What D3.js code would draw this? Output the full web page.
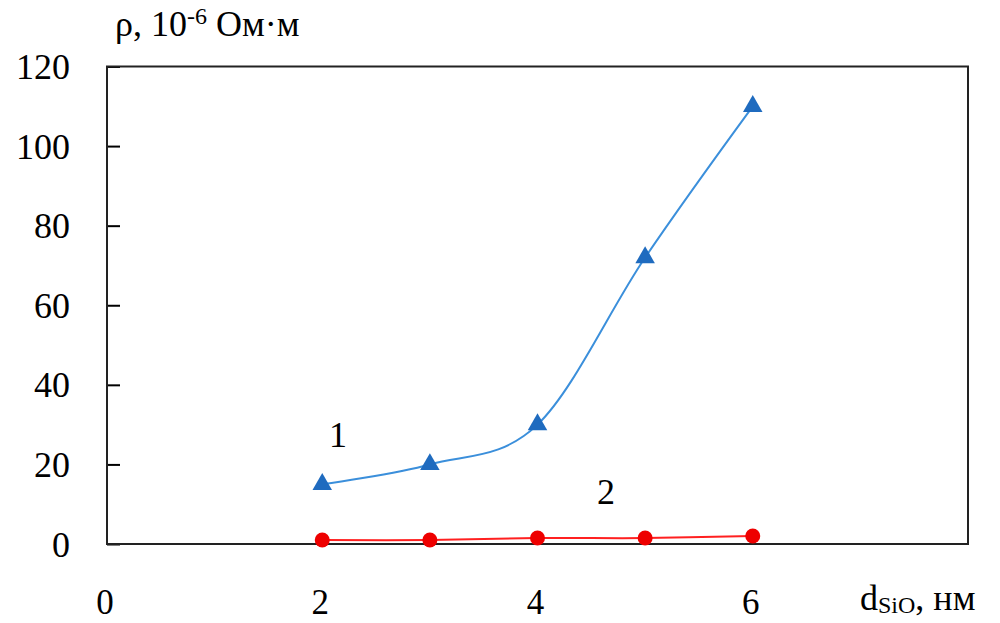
<!DOCTYPE html>
<html><head><meta charset="utf-8">
<script src="https://cdn.jsdelivr.net/npm/d3@7"></script>
<style>body{margin:0;background:#fff}svg{display:block}</style>
</head><body><svg id="c" width="1000" height="623" font-family="'Liberation Serif', 'Times New Roman', 'DejaVu Serif', serif"></svg>
<script>
const xValues = [2, 3, 4, 5, 6];
const series1 = [15, 20, 30, 72, 110];
const series2 = [1, 1, 1.5, 1.5, 2];
const yTicks = [0, 20, 40, 60, 80, 100, 120];
const xTicks = [0, 2, 4, 6];

const svg = d3.select("#c");
const F = "'Liberation Serif', 'Times New Roman', 'DejaVu Serif', serif";
const L = 107, R = 968, T = 66.5, B = 544;
const x = d3.scaleLinear().domain([0, 8]).range([L, R]);
const y = d3.scaleLinear().domain([0, 120]).range([B, T]);

// y ticks (inward)
const yAxis = d3.axisRight(y).tickValues(yTicks).tickSize(13).tickFormat("");
svg.append("g").attr("transform", `translate(${L},0)`).call(yAxis)
  .call(g => g.select(".domain").remove())
  .call(g => g.selectAll("line").attr("stroke", "#000").attr("stroke-width", 2));

// y tick labels
svg.append("g").selectAll("text").data(yTicks).join("text")
  .attr("font-family", F)
  .attr("x", 70).attr("y", d => y(d)).attr("dy", "0.35em")
  .attr("text-anchor", "end").attr("font-size", 36).text(d => d);

// x tick labels
svg.append("g").selectAll("text").data(xTicks).join("text")
  .attr("font-family", F)
  .attr("x", d => x(d) - 2).attr("y", 614)
  .attr("text-anchor", "middle").attr("font-size", 35).text(d => d);

// frame
svg.append("rect").attr("x", L).attr("y", T).attr("width", R - L).attr("height", B - T)
  .attr("fill", "none").attr("stroke", "#222").attr("stroke-width", 2);

const line = d3.line().x(d => x(d[0])).y(d => y(d[1])).curve(d3.curveCardinal.tension(0));
const d1 = xValues.map((v, i) => [v, series1[i]]);
const d2 = xValues.map((v, i) => [v, series2[i]]);

svg.append("path").datum(d2).attr("d", line).attr("fill", "none").attr("stroke", "#ff2020").attr("stroke-width", 2);
svg.append("path").datum(d1).attr("d", line).attr("fill", "none").attr("stroke", "#3b8fdb").attr("stroke-width", 2);

svg.append("g").selectAll("circle").data(d2).join("circle")
  .attr("cx", d => x(d[0])).attr("cy", d => y(d[1])).attr("r", 7.5).attr("fill", "#ee0000");

const tri = d3.symbol().type(d3.symbolTriangle).size(165);
svg.append("g").selectAll("path").data(d1).join("path")
  .attr("transform", d => `translate(${x(d[0])},${y(d[1])})`).attr("d", tri).attr("fill", "#1f6bbf");

// series labels
svg.append("text").attr("font-family", F).attr("x", 338).attr("y", 447).attr("text-anchor", "middle").attr("font-size", 36).text("1");
svg.append("text").attr("font-family", F).attr("x", 606).attr("y", 504).attr("text-anchor", "middle").attr("font-size", 36).text("2");

// y title
const yt = svg.append("text").attr("font-family", F).attr("x", 115).attr("y", 36).attr("font-size", 36);
yt.append("tspan").text("ρ, 10");
yt.append("tspan").attr("dy", -12).attr("font-size", 24).text("-6");
yt.append("tspan").attr("dy", 12).text(" Ом·м");

// x title
const xt = svg.append("text").attr("font-family", F).attr("x", 860).attr("y", 610).attr("font-size", 36);
xt.append("tspan").text("d");
xt.append("tspan").attr("dy", 3).attr("font-size", 24).text("SiO");
xt.append("tspan").attr("dy", -3).text(", нм");
</script></body></html>
